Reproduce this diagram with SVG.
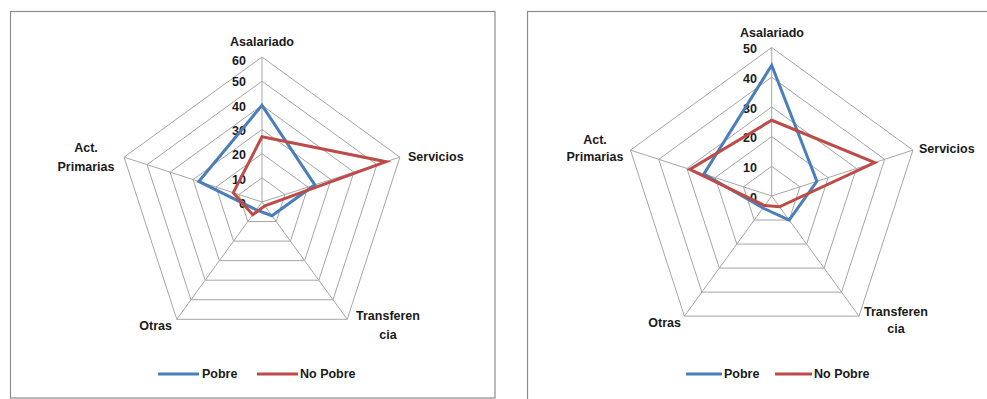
<svg xmlns="http://www.w3.org/2000/svg" width="987" height="399" viewBox="0 0 987 399">
<style>
.frame{fill:#ffffff;stroke:#8c8c8c;stroke-width:1.2}
.grid{fill:none;stroke:#a6a6a6;stroke-width:1}
.pobre{fill:none;stroke:#4a7ebb;stroke-width:3;stroke-linejoin:miter}
.nopobre{fill:none;stroke:#be4b48;stroke-width:3;stroke-linejoin:miter}
text{font-family:"Liberation Sans",Arial,sans-serif;font-weight:bold;font-size:12.5px;fill:#1a1a1a}
.num{text-anchor:end}
.mid{text-anchor:middle}
.end{text-anchor:end}
</style>
<rect width="987" height="399" fill="#ffffff"/>

<g id="chart-left">
<rect class="frame" x="10.5" y="11.5" width="484.5" height="386.5"/>
<g id="grid-left" class="grid">
<polygon points="262,177.83 284.98,194.53 276.21,221.55 247.79,221.55 239.02,194.53"/>
<polygon points="262,153.67 307.97,187.06 290.41,241.10 233.59,241.10 216.03,187.06"/>
<polygon points="262,129.5 330.95,179.60 304.61,260.65 219.39,260.65 193.05,179.60"/>
<polygon points="262,105.33 353.94,172.13 318.82,280.20 205.18,280.20 170.06,172.13"/>
<polygon points="262,81.17 376.92,164.66 333.02,299.76 190.98,299.76 147.08,164.66"/>
<polygon points="262,57 399.90,157.19 347.23,319.31 176.77,319.31 124.10,157.19"/>
<path d="M262,202 L262,57 M262,202 L399.90,157.19 M262,202 L347.23,319.31 M262,202 L176.77,319.31 M262,202 L124.10,157.19"/>
</g>
<g id="scale-left">
<text class="num" x="246" y="65">60</text>
<text class="num" x="246" y="86">50</text>
<text class="num" x="246" y="111">40</text>
<text class="num" x="246" y="135">30</text>
<text class="num" x="246" y="159">20</text>
<text class="num" x="246" y="184">10</text>
<text class="num" x="246" y="208">0</text>
</g>
<g id="series-left">
<polygon class="pobre" points="262,105.33 314.86,184.82 271.94,215.69 256.32,209.82 198.79,181.46"/>
<polygon class="nopobre" points="262,136.75 386.11,161.67 264.84,205.91 252.77,214.71 233.27,192.66"/>
</g>
<g id="labels-left">
<text class="mid" x="262" y="46">Asalariado</text>
<text x="408" y="161">Servicios</text>
<text class="mid" x="86" y="152">Act.</text>
<text class="mid" x="86" y="171">Primarias</text>
<text class="end" x="172" y="330">Otras</text>
<text class="mid" x="388" y="320">Transferen</text>
<text class="mid" x="388" y="339">cia</text>
</g>
<g id="legend-left">
<line x1="158" y1="374" x2="199" y2="374" stroke="#4a7ebb" stroke-width="3"/>
<text x="202" y="378">Pobre</text>
<line x1="257" y1="374" x2="298" y2="374" stroke="#be4b48" stroke-width="3"/>
<text x="300" y="378">No Pobre</text>
</g>
</g>

<g id="chart-right">
<rect class="frame" x="527.5" y="11.5" width="470" height="400"/>
<g id="grid-right" class="grid">
<polygon points="771.7,166.3 799.95,186.82 789.16,220.03 754.24,220.03 743.45,186.82"/>
<polygon points="771.7,136.6 828.19,177.64 806.61,244.06 736.79,244.06 715.21,177.64"/>
<polygon points="771.7,106.9 856.44,168.47 824.07,268.08 719.33,268.08 686.96,168.47"/>
<polygon points="771.7,77.2 884.69,159.29 841.53,292.11 701.87,292.11 658.71,159.29"/>
<polygon points="771.7,47.5 912.93,150.11 858.99,316.14 684.41,316.14 630.47,150.11"/>
<path d="M771.7,196 L771.7,47.5 M771.7,196 L912.93,150.11 M771.7,196 L858.99,316.14 M771.7,196 L684.41,316.14 M771.7,196 L630.47,150.11"/>
</g>
<g id="scale-right">
<text class="num" x="757" y="53">50</text>
<text class="num" x="757" y="83">40</text>
<text class="num" x="757" y="113">30</text>
<text class="num" x="757" y="142">20</text>
<text class="num" x="757" y="172">10</text>
<text class="num" x="757" y="202">0</text>
</g>
<g id="series-right">
<polygon class="pobre" points="771.7,65.32 816.89,181.32 789.16,220.03 762.97,208.01 703.91,173.97"/>
<polygon class="nopobre" points="771.7,120.26 874.8,162.5 779.56,206.81 764.72,205.61 689.79,169.38"/>
</g>
<g id="labels-right">
<text class="mid" x="772" y="37">Asalariado</text>
<text x="919" y="153">Servicios</text>
<text class="mid" x="595" y="144">Act.</text>
<text class="mid" x="595" y="161">Primarias</text>
<text class="end" x="681" y="327">Otras</text>
<text class="mid" x="896" y="316">Transferen</text>
<text class="mid" x="896" y="333">cia</text>
</g>
<g id="legend-right">
<line x1="686" y1="374" x2="722" y2="374" stroke="#4a7ebb" stroke-width="3"/>
<text x="724" y="378">Pobre</text>
<line x1="775" y1="374" x2="812" y2="374" stroke="#be4b48" stroke-width="3"/>
<text x="814" y="378">No Pobre</text>
</g>
</g>
</svg>
